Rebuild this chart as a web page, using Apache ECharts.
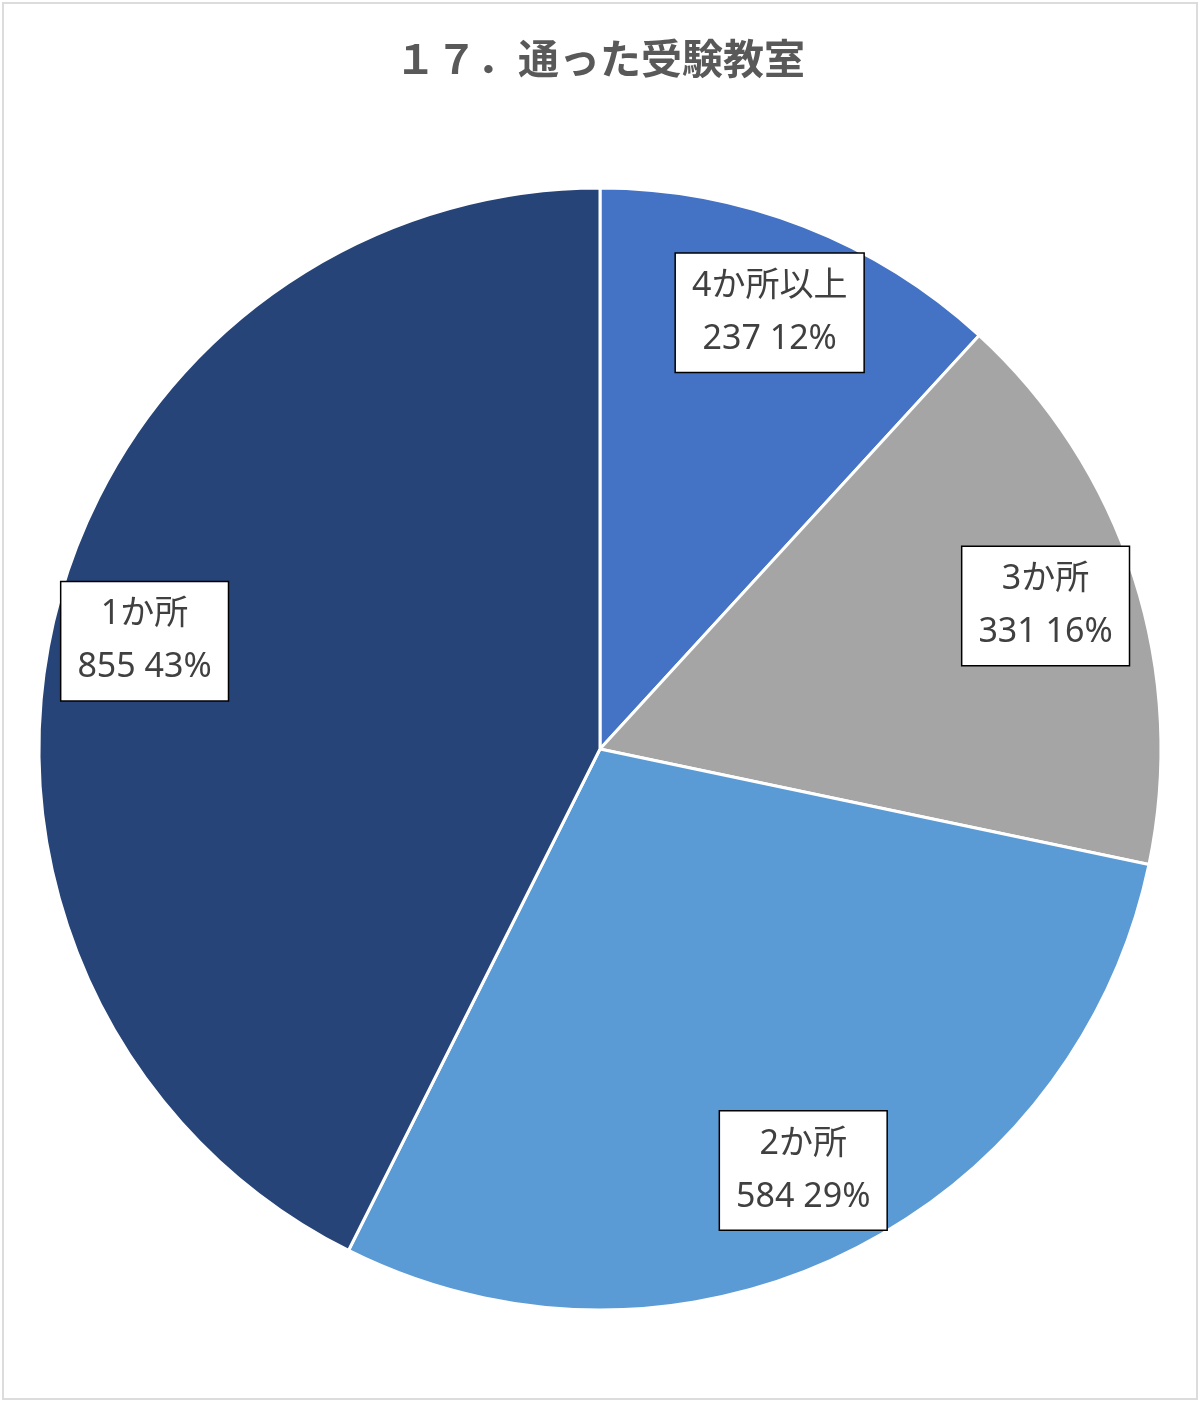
<!DOCTYPE html>
<html>
<head>
<meta charset="utf-8">
<script src="https://cdn.jsdelivr.net/npm/echarts@6/dist/echarts.min.js"></script>
<style>
  html, body { margin: 0; padding: 0; background: #fff; }
  #main { width: 1200px; height: 1401px; }
</style>
</head>
<body>
<div id="main"></div>
<script>
const categories = ['4か所以上', '3か所', '2か所', '1か所'];
const counts = [237, 331, 584, 855];
const colors = ['#4472C4', '#A5A5A5', '#5B9BD5', '#264478'];

var chartDom = document.getElementById('main');
var myChart = echarts.init(chartDom);
var option;

const pieData = categories.map((name, i) => ({ name: name, value: counts[i] }));

option = {
    animation: false,
    textStyle: { fontFamily: '"Noto Sans", "Noto Sans CJK JP", sans-serif' },
    title: {
        text: '１７．通った受験教室',
        left: 'center',
        top: 33,
        textStyle: { fontSize: 41, fontWeight: 'bold', color: '#595959', fontFamily: '"Noto Sans CJK JP", sans-serif' }
    },
    graphic: [{
        type: 'rect',
        shape: { x: 3, y: 3, width: 1194, height: 1396 },
        style: { fill: 'none', stroke: '#dcdcdc', lineWidth: 2 },
        silent: true
    }],
    color: colors,
    series: [
        {
            name: 'main',
            type: 'pie',
            center: [600, 749],
            radius: [0, 561],
            startAngle: 90,
            clockwise: true,
            silent: true,
            itemStyle: { borderColor: '#fff', borderWidth: 3 },
            label: { show: false },
            labelLine: { show: false },
            data: pieData
        },
        {
            // transparent ring used only to place labels further out along each slice
            name: 'labels',
            type: 'pie',
            center: [600, 749],
            radius: [369, 561],
            startAngle: 90,
            clockwise: true,
            silent: true,
            percentPrecision: 0,
            itemStyle: { color: 'rgba(0,0,0,0)' },
            label: {
                show: true,
                position: 'inside',
                formatter: '{b}\n{c} {d}%',
                fontSize: 34,
                lineHeight: 53,
                color: '#404040',
                fontFamily: '"Noto Sans", "Noto Sans CJK JP", sans-serif',
                backgroundColor: '#fff',
                borderColor: '#000',
                borderWidth: 1.5,
                padding: [6, 16, 6, 16],
                align: 'center'
            },
            labelLine: { show: false },
            data: pieData
        }
    ]
};

option && myChart.setOption(option);
</script>
</body>
</html>
